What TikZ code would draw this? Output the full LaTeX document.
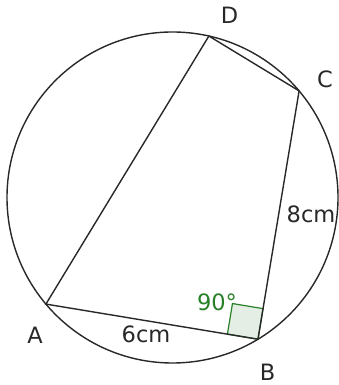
\documentclass[tikz,border=0pt]{standalone}
\usepackage{fontspec}
\setmainfont{DejaVu Sans}
\usepackage{tikz}
\usetikzlibrary{calc}
\definecolor{anglegreen}{RGB}{40,128,40}
\definecolor{anglefill}{RGB}{228,238,228}
\definecolor{edgegray}{RGB}{40,40,40}

\begin{document}
\begin{tikzpicture}[x=1pt,y=1pt,
			edge/.style={draw=edgegray,line width=1.4pt},
			lbl/.style={font=\fontsize{22.5}{26}\selectfont,text=edgegray,inner sep=0pt},
			ang/.style={draw=anglegreen,fill=anglefill,line width=1.2pt}
			]
			\useasboundingbox (0,0) rectangle (338,385);
			\coordinate (O) at (172.5,187.5);
			\coordinate (A) at ($(O)+(220.1:165.5)$);
			\coordinate (B) at ($(O)+(301.1:165.5)$);
			\coordinate (C) at ($(O)+(40.1:165.5)$);
			\coordinate (D) at ($(O)+(77.3:165.5)$);
			\coordinate (ba) at ($(B)!31pt!(A)$);
			\coordinate (bc) at ($(B)!31pt!(C)$);
			\filldraw[ang] (B) -- (ba) -- ($(ba)+(bc)-(B)$) -- (bc) -- cycle;
			\draw[edge] (O) circle (165.5);
			\draw[edge] (A) -- (B) -- (C) -- (D) -- cycle;
			\node[lbl] (lA) at (35,50) {A};
			\node[lbl] (lB) at (267.5,13) {B};
			\node[lbl] (lC) at (325,306) {C};
			\node[lbl] (lD) at (229.5,370) {D};
			\node[lbl] (ab) at (146,51) {6cm};
			\node[lbl] (bcl) at (311,171) {8cm};
			\node[lbl,text=anglegreen] (rt) at (217,83) {90°};
		\end{tikzpicture}
\end{document}
